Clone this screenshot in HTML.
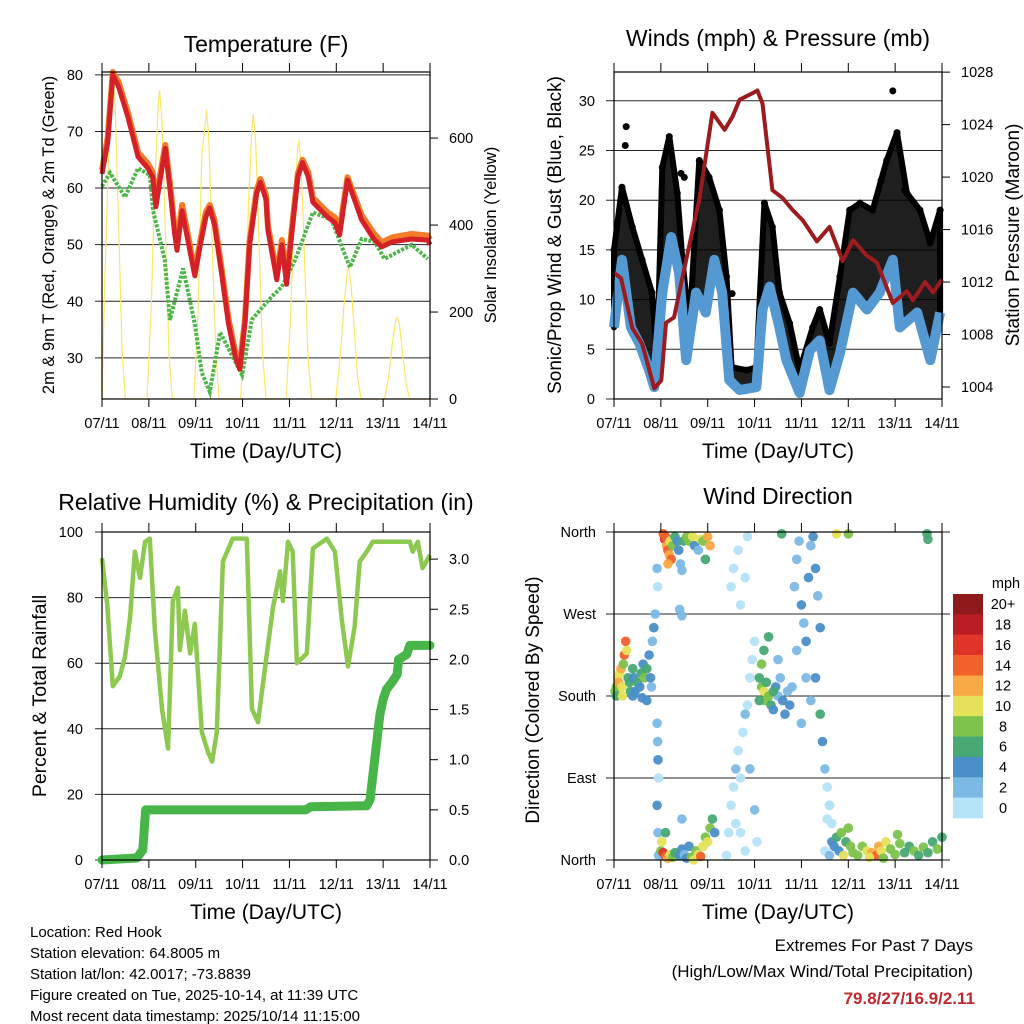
<!DOCTYPE html>
<html><head><meta charset="utf-8"><title>Red Hook station charts</title>
<style>
html,body{margin:0;padding:0;background:#fff;}
svg{display:block;font-family:"Liberation Sans",Arial,sans-serif;}
</style></head>
<body>
<svg id="chart" width="1024" height="1024" viewBox="0 0 1024 1024" xmlns="http://www.w3.org/2000/svg">
<rect x="0" y="0" width="1024" height="1024" fill="#fff"/>
<g id="layer"></g>
<g font-size="15" fill="#000">
<text x="30" y="937">Location: Red Hook</text>
<text x="30" y="958">Station elevation: 64.8005 m</text>
<text x="30" y="979">Station lat/lon: 42.0017; -73.8839</text>
<text x="30" y="1000">Figure created on Tue, 2025-10-14, at 11:39 UTC</text>
<text x="30" y="1021">Most recent data timestamp: 2025/10/14 11:15:00</text>
</g>
<g text-anchor="end">
<text x="973" y="951" font-size="17">Extremes For Past 7 Days</text>
<text x="973" y="977" font-size="17">(High/Low/Max Wind/Total Precipitation)</text>
<text x="975" y="1004" font-size="17" font-weight="bold" fill="#c0282d">79.8/27/16.9/2.11</text>
</g>
</svg>
<script>
// ---------- DATA ----------
const dayLabels = ["07/11","08/11","09/11","10/11","11/11","12/11","13/11","14/11"];
const tempTicks = [30,40,50,60,70,80];
const solarTicks = [0,200,400,600];
const windTicks = [0,5,10,15,20,25,30];
const pressTicks = [1004,1008,1012,1016,1020,1024,1028];
const rhTicks = [0,20,40,60,80,100];
const precipTicks = ["0.0","0.5","1.0","1.5","2.0","2.5","3.0"];
const dirTicks = ["North","East","South","West","North"];
const speedBins = ["0","2","4","6","8","10","12","14","16","18","20+"];

const tempDays = [0,0.12,0.23,0.35,0.55,0.77,0.98,1.08,1.15,1.25,1.35,1.45,1.55,1.6,1.71,1.85,1.98,2.1,2.22,2.3,2.4,2.55,2.7,2.85,2.94,3.05,3.15,3.3,3.38,3.5,3.54,3.73,3.84,3.94,4.05,4.18,4.28,4.4,4.5,4.8,4.97,5.07,5.24,5.54,5.8,5.97,6.2,6.6,6.95,7.0];
const temp2m = [62.5,68,80,78,72.6,65.5,63.5,62,56.7,62,67,60,52,49,56,50,44.5,50,55,56.5,53.5,45,36,30,28,36,50,59,61,58,52.6,43.8,50,43,52,62,64.5,62,57.5,55,53.9,51.7,61.4,54.4,51,49.6,50.5,51,50.8,50];
const temp9m = [63.2,68.8,80.5,78.8,73.4,66.3,64.3,62.8,57.6,62.8,67.6,60.9,53,50,57,51,45.3,50.8,55.8,57,54.3,45.9,36.9,30.8,28.6,36.6,50.6,59.6,61.6,58.8,53.4,44.8,50.8,44,52.8,62.6,65,62.8,58.3,55.8,54.8,52.6,61.9,55.2,52,50.4,51.3,51.9,51.6,50.9];
const tdDays = [0,0.17,0.49,0.77,1.02,1.09,1.34,1.45,1.73,1.98,2.13,2.3,2.52,2.99,3.2,3.62,3.84,4.12,4.5,4.9,5.12,5.29,5.54,5.82,6.03,6.61,6.95];
const dewpoint = [60.3,62.7,58.4,63.5,62.3,56,47.3,36.7,45.8,36,27.4,24,34.5,27,36.8,40.8,42.6,47.3,55.7,54.4,49.6,46,51,50.5,47.5,50,47.5];
const solarDays = [0,0.05,0.13,0.2,0.23,0.28,0.35,0.43,0.5, 0.96,1.05,1.13,1.2,1.23,1.28,1.35,1.43,1.5, 1.96,2.05,2.13,2.2,2.23,2.28,2.35,2.43,2.5, 2.96,3.05,3.13,3.2,3.23,3.28,3.35,3.43,3.5, 3.93,4.02,4.1,4.17,4.2,4.25,4.32,4.4,4.47, 4.99,5.08,5.16,5.23,5.26,5.31,5.38,5.46,5.53, 6.03,6.12,6.2,6.27,6.3,6.35,6.42,6.5,6.57,7.0];
const solarVals = [0,230,520,720,750,680,420,110,0, 0,210,500,675,710,640,390,105,0, 0,200,560,630,665,600,365,100,0, 0,195,460,620,655,590,360,100,0, 0,180,420,565,595,535,330,90,0, 0,90,210,290,303,270,165,45,0, 0,55,130,180,188,170,100,28,0,0];

const windDays = [0,0.17,0.36,0.54,0.75,0.86,1.03,1.22,1.39,1.54,1.75,1.96,2.14,2.31,2.46,2.68,3.04,3.17,3.32,3.53,3.68,3.96,4.18,4.39,4.6,4.82,5.1,5.4,5.67,5.95,6.1,6.47,6.75,6.96];
const windSpeed = [7.2,14,7.2,5.6,2.9,1.2,10.7,16.3,12.7,3.9,10.7,8.7,14,10.7,1.9,0.9,1.2,9,11.3,7.2,3.9,0.6,4.9,5.9,0.9,4.6,10.7,9,10.7,14,7.2,8.7,3.9,8.7];
const gustDays = [0,0.17,0.39,0.6,0.81,0.92,1.03,1.18,1.35,1.46,1.61,1.82,2.03,2.25,2.4,2.51,2.83,3.04,3.21,3.38,3.53,3.75,3.96,4.24,4.39,4.6,4.82,5.03,5.25,5.52,5.82,6.04,6.25,6.53,6.75,6.96];
const gustSpeed = [15,21.3,17.3,14,10.7,3.9,23.3,26.4,20.7,14,7.2,24,22.3,19,12.3,3.2,2.9,3.2,19.7,17.3,10.7,7.6,2.9,7.2,9,5.6,12.3,19,19.7,19,24,26.8,20.7,19,15.7,19];
const gustOutlierDays = [0.26,0.24,1.43,1.5,2.52,5.95,5.7,6.2];
const gustOutlierVals = [27.4,25.5,22.7,22.3,10.6,31,22,21];
const pressDays = [0,0.15,0.39,0.6,0.86,1.01,1.11,1.28,1.54,1.82,2.1,2.36,2.53,2.68,2.96,3.06,3.17,3.38,3.6,3.81,4.03,4.33,4.6,4.88,5.1,5.4,5.61,5.95,6.25,6.38,6.64,6.81,7.0];
const pressure = [1012.7,1012.3,1008.5,1007.3,1003.9,1004.5,1008.9,1009.3,1013.7,1018.3,1024.9,1023.6,1024.6,1025.9,1026.4,1026.6,1025.6,1019,1018.4,1017.5,1016.7,1015.1,1016.2,1013.6,1015.2,1014,1013.5,1010.4,1011.3,1010.6,1012,1011.2,1012.2];

const rhDays = [0,0.11,0.23,0.38,0.49,0.6,0.7,0.81,0.92,1.02,1.13,1.28,1.41,1.51,1.62,1.66,1.77,1.88,1.98,2.13,2.26,2.35,2.45,2.58,2.79,3.09,3.2,3.33,3.52,3.65,3.8,3.86,3.97,4.07,4.16,4.37,4.5,4.8,4.97,5.12,5.25,5.39,5.5,5.65,5.78,6.2,6.57,6.63,6.74,6.84,7.0];
const rhVals = [92,78,53,56,62,74,94,86,97,98,70,46,34,79,83,64,76,63,72,39,33,30,39,91,98,98,46,42,63,77,88,79,97,94,60,63,95,98,94,73,59,71,91,94,97,97,97,94,97,89,93];
const precipDays = [0,0.74,0.87,0.93,4.35,4.45,5.65,5.72,5.82,5.93,6.0,6.07,6.2,6.3,6.33,6.5,6.57,7.0];
const precipVals = [0,0.02,0.1,0.5,0.5,0.53,0.54,0.6,1.0,1.45,1.6,1.7,1.78,1.85,2.0,2.05,2.14,2.14];

const dirDays = [0.02,0.05,0.08,0.1,0.12,0.15,0.17,0.2,0.22,0.25,0.27,0.3,0.33,0.35,0.4,0.42,0.45,0.5,0.55,0.58,0.62,0.65,0.7,0.75,0.78,0.8,0.82,0.85,0.88,0.05,0.18,0.4,0.6,0.7,
0.92,0.93,0.94,0.95,0.92,0.94,0.92,0.93,
1.05,1.08,1.1,1.12,1.15,1.18,1.2,1.22,1.25,1.15,1.3,1.35,1.38,1.42,1.45,1.48,1.55,1.6,1.68,1.72,1.8,1.85,1.9,1.95,2.0,2.05,1.4,1.45,
0.95,1.0,1.02,1.05,1.1,1.15,1.2,1.25,1.3,1.4,1.45,1.5,1.55,1.6,1.65,1.7,1.75,1.8,1.85,1.9,1.95,2.0,2.05,2.1,2.15,1.1,1.45,
2.4,2.45,2.5,2.55,2.6,2.65,2.7,2.75,2.8,2.85,2.9,2.95,3.0,2.6,2.7,2.8,2.5,2.55,2.65,2.7,2.8,2.85,3.0,3.05,2.9,
3.1,3.15,3.2,3.22,3.25,3.3,3.35,3.4,3.45,3.5,3.55,3.6,3.65,3.7,3.75,3.8,3.15,3.2,3.3,3.5,3.1,3.4,
3.85,3.9,3.95,4.0,4.05,4.1,4.15,4.2,4.25,4.3,4.35,4.4,4.45,4.1,4.2,3.9,4.5,4.55,4.6,4.65,4.0,4.3,4.4,
4.5,4.6,4.65,4.7,4.75,4.8,4.85,4.9,4.95,5.0,5.05,5.1,5.2,5.3,5.4,5.5,5.6,5.65,5.7,5.8,5.9,6.0,6.1,6.2,6.3,6.4,6.5,6.6,6.7,6.8,6.9,7.0,5.45,5.75,6.05,4.55,4.6,
3.58,4.75,5.0,6.68,6.7];
const dirDeg = [185,190,200,195,205,210,190,215,225,240,230,200,195,185,210,200,185,195,190,205,215,200,210,225,200,190,240,255,270,180,180,180,178,175,
150,130,110,90,60,30,320,300,
358,352,355,345,340,335,350,330,345,325,355,350,340,325,318,350,355,350,355,345,340,352,350,330,355,345,275,268,
5,10,20,8,4,2,6,3,8,5,12,6,2,15,3,0,10,6,4,15,25,20,35,45,30,30,45,
5,30,60,80,100,120,90,140,160,170,200,220,240,40,30,10,300,320,340,280,310,355,55,20,100,
200,190,185,175,195,180,170,165,190,180,200,175,160,185,170,190,215,230,245,220,175,185,
300,330,350,280,260,240,310,345,355,320,290,160,130,200,175,230,100,80,60,40,150,200,255,
10,5,20,15,25,10,30,5,20,35,15,8,5,15,10,8,5,15,10,20,12,6,18,8,15,10,5,14,8,20,12,25,3,2,28,45,60,
358,358,358,358,352];
const dirSpeed = [8,9,11,12,10,12,11,8,14,14,10,7,6,7,7,5,5,7,4,6,5,8,6,4,4,3,3,4,2,7,10,5,4,4,
2,2,4,1,4,2,2,1,
14,16,14,13,14,12,10,14,9,12,6,4,4,3,3,7,8,9,10,4,3,11,8,7,12,13,3,2,
2,9,10,16,14,12,10,8,6,4,4,3,5,4,8,10,8,11,14,10,8,10,9,6,5,7,2,
0,1,1,0,2,1,0,1,2,1,0,1,0,0,1,0,1,0,1,0,1,0,2,1,2,
7,8,10,9,6,8,6,5,4,3,3,4,5,3,4,2,8,7,6,3,6,7,
2,3,2,4,3,4,4,3,4,5,3,6,4,3,2,2,2,1,2,1,2,4,4,
1,3,4,5,6,4,8,10,7,8,9,8,8,9,10,12,14,12,11,10,9,8,8,7,6,8,7,8,6,7,8,6,10,8,9,0,1,
6,10,8,6,6];
const binColors = ["#b5e3f8","#7cb9e4","#4a8fc8","#47a873","#7cc24b","#e6e15a","#f7a945","#f0612b","#df3427","#bb1d25","#8e1a1c"];

// ---------- HELPERS ----------
const NS = "http://www.w3.org/2000/svg";
const layer = document.getElementById("layer");
function mk(tag, attrs, parent){
  const e = document.createElementNS(NS, tag);
  for (const k in attrs) e.setAttribute(k, attrs[k]);
  (parent||layer).appendChild(e);
  return e;
}
function txt(s, x, y, size, anchor, parent, extra){
  const t = mk("text", {x:x, y:y, "font-size":size, "text-anchor":anchor||"middle", fill:"#000"}, parent);
  if (extra) for (const k in extra) t.setAttribute(k, extra[k]);
  t.textContent = s;
  return t;
}
function makeX(p){ return d => p.x0 + d*(p.x1-p.x0)/7; }
function makeY(p, lo, hi){ return v => p.y1 - (v-lo)*(p.y1-p.y0)/(hi-lo); }
function pathFrom(xs, ys, fx, fy){
  let s = "";
  for (let i=0;i<xs.length;i++) s += (i? "L":"M") + fx(xs[i]).toFixed(1) + "," + fy(ys[i]).toFixed(1);
  return s;
}
function frame(p, g){
  const fx = makeX(p);
  for (let i=0;i<dayLabels.length;i++){
    const x = fx(i);
    const tk = mk("line",{x1:x,x2:x,y1:p.y1,y2:p.y1+8,stroke:"#000","stroke-width":1},g);
    
    
    mk("line",{x1:x,x2:x,y1:p.y0-9,y2:p.y0,stroke:"#000","stroke-width":1},g);
    const lb = txt(dayLabels[i], x, p.y1+29, 14.5, "middle", g);
    
    
  }
  const r = mk("rect",{x:p.x0,y:p.y0,width:p.x1-p.x0,height:p.y1-p.y0,fill:"none",stroke:"#000","stroke-width":1.2},g);
  
  
  const at = txt("Time (Day/UTC)", (p.x0+p.x1)/2, p.y1+59, 21, "middle", g);
  
  
}
function grid(p, vals, fy, g, xl, xr){
  vals.forEach(v=>{
    const y = fy(v);
    const l = mk("line",{x1:xl,x2:xr,y1:y,y2:y,stroke:"#000","stroke-width":1,"stroke-opacity":0.85},g);
    
    
  });
}
function leftLabels(p, vals, labels, fy, g, off){
  vals.forEach((v,i)=>{
    const t = txt(labels[i], p.x0-(off||19), fy(v)+5, 14.5, "end", g);
    
    
  });
}
function rightAxis(p, vals, labels, fy, g){
  vals.forEach((v,i)=>{
    const y = fy(v);
    mk("line",{x1:p.x1,x2:p.x1+8,y1:y,y2:y,stroke:"#000","stroke-width":1},g);
    const t = txt(labels[i], p.x1+19, y+5, 14.5, "start", g);
    
    
  });
}
function vtitle(s, x, y, size, g, name){
  const t = txt(s, x, y, size, "middle", g, {transform:"rotate(-90 "+x+" "+y+")"});
  
  
}

// ---------- PANEL 1: TEMPERATURE ----------
(function(){
  const p = {x0:102,x1:430,y0:72,y1:399};
  const g = mk("g",{});
  
  
  const fx = makeX(p);
  const fy = makeY(p, 22.74, 80.5);
  const fs = makeY(p, 0, 752);
  const t = txt("Temperature (F)", (p.x0+p.x1)/2, 52, 23, "middle", g);
  
  
  grid(p, tempTicks, fy, g, 95, p.x1);
  leftLabels(p, tempTicks, tempTicks.map(String), fy, g);
  rightAxis(p, solarTicks, solarTicks.map(String), fs, g);
  const sol = mk("path",{d:pathFrom(solarDays, solarVals, fx, fs),fill:"none",stroke:"#fde466","stroke-width":1.2},g);
  
  
  const td = mk("path",{d:pathFrom(tdDays, dewpoint, fx, fy),fill:"none",stroke:"#4cb648","stroke-width":4,"stroke-dasharray":"3 1.5"},g);
  
  
  const o = mk("path",{d:pathFrom(tempDays, temp9m, fx, fy),fill:"none",stroke:"#f47b2a","stroke-width":6,"stroke-linejoin":"round"},g);
  
  
  const r = mk("path",{d:pathFrom(tempDays, temp2m, fx, fy),fill:"none",stroke:"#d42027","stroke-width":5,"stroke-linejoin":"round"},g);
  
  
  frame(p, g);
  vtitle("2m & 9m T (Red, Orange) & 2m Td (Green)", 54, 235, 16.5, g, 'y-axis-title');
  vtitle("Solar Insolation (Yellow)", 496, 235, 16.5, g, 'y2-axis-title');
})();

// ---------- PANEL 2: WINDS ----------
(function(){
  const p = {x0:614,x1:942,y0:72,y1:399};
  const g = mk("g",{});
  
  
  const fx = makeX(p);
  const fy = v => p.y1 - v*9.94;
  const fp = v => 387 - (v-1004)*13.12;
  const t = txt("Winds (mph) & Pressure (mb)", (p.x0+p.x1)/2, 46, 23, "middle", g);
  
  
  grid(p, windTicks, fy, g, 606, p.x1);
  leftLabels(p, windTicks, windTicks.map(String), fy, g);
  rightAxis(p, pressTicks, pressTicks.map(String), fp, g);
  let top = "", bot = "";
  for (let i=0;i<gustDays.length;i++) top += (i?"L":"M") + fx(gustDays[i]).toFixed(1)+","+fy(gustSpeed[i]).toFixed(1);
  for (let i=windDays.length-1;i>=0;i--) bot += "L" + fx(windDays[i]).toFixed(1)+","+fy(windSpeed[i]).toFixed(1);
  const band = mk("path",{d:top+bot+"Z",fill:"#000","fill-opacity":0.88,stroke:"#000","stroke-width":6,"stroke-linejoin":"round"},g);
  
  
  for (let i=0;i<gustDays.length;i++){
    const c = mk("circle",{cx:fx(gustDays[i]),cy:fy(gustSpeed[i]),r:3.5,fill:"#000"},g);
    
    
  }
  gustOutlierDays.forEach((d,i)=>{
    const c = mk("circle",{cx:fx(d),cy:fy(gustOutlierVals[i]),r:3.5,fill:"#000"},g);
    
    
  });
  const w = mk("path",{d:pathFrom(windDays, windSpeed, fx, fy),fill:"none",stroke:"#5499d2","stroke-width":10,"stroke-linejoin":"round"},g);
  
  
  const pr = mk("path",{d:pathFrom(pressDays, pressure, fx, fp),fill:"none",stroke:"#9b1b1e","stroke-width":4,"stroke-linejoin":"round"},g);
  
  
  frame(p, g);
  vtitle("Sonic/Prop Wind & Gust (Blue, Black)", 561, 235, 19, g, 'y-axis-title');
  vtitle("Station Pressure (Maroon)", 1019, 235, 19, g, 'y2-axis-title');
})();

// ---------- PANEL 3: RH & PRECIP ----------
(function(){
  const p = {x0:102,x1:430,y0:532,y1:860};
  const g = mk("g",{});
  
  
  const fx = makeX(p);
  const fy = makeY(p, 0, 100);
  const fr = v => p.y1 - v*100.3;
  const t = txt("Relative Humidity (%) & Precipitation (in)", (p.x0+p.x1)/2, 510, 23, "middle", g);
  
  
  grid(p, rhTicks, fy, g, 95, p.x1);
  leftLabels(p, rhTicks, rhTicks.map(String), fy, g);
  rightAxis(p, precipTicks.map(Number), precipTicks, fr, g);
  const pc = mk("path",{d:pathFrom(precipDays, precipVals, fx, fr),fill:"none",stroke:"#48b548","stroke-width":9,"stroke-linejoin":"round","stroke-linecap":"round"},g);
  
  
  const rh = mk("path",{d:pathFrom(rhDays, rhVals, fx, fy),fill:"none",stroke:"#8dc950","stroke-width":4.5,"stroke-linejoin":"round"},g);
  
  
  frame(p, g);
  vtitle("Percent & Total Rainfall", 46, 696, 19.5, g, 'y-axis-title');
})();

// ---------- PANEL 4: WIND DIRECTION ----------
(function(){
  const p = {x0:614,x1:942,y0:532,y1:860};
  const g = mk("g",{});
  
  
  const fx = makeX(p);
  const fy = makeY(p, 0, 360);
  const t = txt("Wind Direction", (p.x0+p.x1)/2, 504, 23, "middle", g);
  
  
  const dv = [0,90,180,270,360];
  grid(p, dv, fy, g, 606, 950);
  dv.forEach((v,i)=>{
    const l = txt(dirTicks[i], 596, fy(v)+5, 14.5, "end", g);
    
    
  });
  for (let i=0;i<dirDays.length;i++){
    const b = Math.min(10, Math.floor(dirSpeed[i]/2));
    const c = mk("circle",{cx:fx(dirDays[i]).toFixed(1),cy:fy(dirDeg[i]).toFixed(1),r:4.8,fill:binColors[b],"fill-opacity":0.95},g);
    
    
  }
  frame(p, g);
  vtitle("Direction (Colored By Speed)", 539, 700, 19, g, 'y-axis-title');
  const cb = mk("g",{},g);
  
  
  const cbTop = 594, cbH = 224/speedBins.length;
  for (let i=0;i<speedBins.length;i++){
    const k = speedBins.length-1-i;
    const r = mk("rect",{x:953,y:cbTop+i*cbH,width:30,height:cbH+0.3,fill:binColors[k]},cb);
    
    
    const l = txt(speedBins[k], 1003, cbTop+i*cbH+cbH/2+5, 14.5, "middle", cb);
    
    
  }
  const u = txt("mph", 1006, 588, 14.5, "middle", cb);
  
  
})();
</script>
</body></html>
